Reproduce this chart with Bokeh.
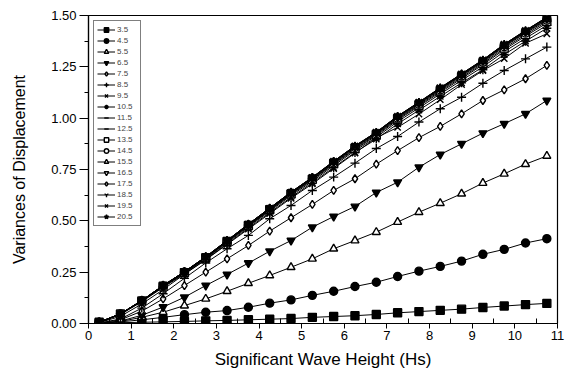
from bokeh.plotting import figure
from bokeh.models import FixedTicker, PrintfTickFormatter, Legend, LegendItem, Range1d
from bokeh.embed import file_html
from bokeh.resources import INLINE
import math

hs = [0.25, 0.75, 1.25, 1.75, 2.25, 2.75, 3.25, 3.75, 4.25, 4.75, 5.25,
      5.75, 6.25, 6.75, 7.25, 7.75, 8.25, 8.75, 9.25, 9.75, 10.25, 10.75]

labels = ["3.5", "4.5", "5.5", "6.5", "7.5", "8.5", "9.5", "10.5", "11.5",
          "12.5", "13.5", "14.5", "15.5", "16.5", "17.5", "18.5", "19.5", "20.5"]

s35 = [0.002, 0.004, 0.006, 0.008, 0.010, 0.013, 0.015, 0.018, 0.021, 0.024, 0.030,
       0.034, 0.038, 0.044, 0.052, 0.058, 0.064, 0.070, 0.078, 0.085, 0.092, 0.098]
s45 = [0.001, 0.008, 0.018, 0.030, 0.043, 0.055, 0.063, 0.079, 0.099, 0.115, 0.137,
       0.157, 0.180, 0.201, 0.229, 0.255, 0.278, 0.304, 0.337, 0.361, 0.392, 0.413]
s55 = [0.001, 0.010, 0.030, 0.055, 0.087, 0.120, 0.157, 0.196, 0.234, 0.274, 0.315,
       0.364, 0.404, 0.445, 0.494, 0.542, 0.586, 0.632, 0.684, 0.729, 0.776, 0.816]
s65 = [0.001, 0.012, 0.040, 0.080, 0.128, 0.185, 0.239, 0.294, 0.352, 0.404, 0.469,
       0.521, 0.570, 0.638, 0.688, 0.761, 0.823, 0.875, 0.927, 0.973, 1.021, 1.086]
s75 = [0.002, 0.018, 0.060, 0.120, 0.185, 0.250, 0.315, 0.380, 0.450, 0.515, 0.580,
       0.648, 0.705, 0.776, 0.842, 0.905, 0.960, 1.021, 1.086, 1.138, 1.192, 1.257]
s85 = [0.002, 0.022, 0.075, 0.145, 0.220, 0.295, 0.364, 0.429, 0.510, 0.575, 0.648,
       0.713, 0.781, 0.852, 0.911, 0.981, 1.046, 1.102, 1.170, 1.232, 1.289, 1.346]
s95 = [0.004, 0.035, 0.095, 0.165, 0.240, 0.310, 0.385, 0.460, 0.535, 0.610, 0.680,
       0.755, 0.830, 0.905, 0.955, 1.020, 1.090, 1.164, 1.232, 1.290, 1.365, 1.411]
s105 = [0.005, 0.044, 0.106, 0.176, 0.241, 0.312, 0.388, 0.465, 0.540, 0.615, 0.686,
        0.760, 0.833, 0.898, 0.972, 1.039, 1.106, 1.172, 1.236, 1.310, 1.375, 1.438]
s115 = [0.005, 0.045, 0.108, 0.179, 0.245, 0.316, 0.393, 0.471, 0.547, 0.623, 0.693,
        0.769, 0.842, 0.907, 0.983, 1.050, 1.118, 1.184, 1.250, 1.324, 1.389, 1.452]
s125 = [0.006, 0.046, 0.110, 0.181, 0.247, 0.319, 0.397, 0.475, 0.551, 0.628, 0.699,
        0.775, 0.848, 0.914, 0.991, 1.058, 1.126, 1.193, 1.260, 1.334, 1.400, 1.463]
s135 = [0.006, 0.046, 0.110, 0.182, 0.248, 0.320, 0.399, 0.477, 0.554, 0.631, 0.702,
        0.779, 0.852, 0.919, 0.996, 1.063, 1.132, 1.199, 1.266, 1.341, 1.407, 1.471]
s145 = [0.006, 0.047, 0.111, 0.183, 0.250, 0.322, 0.400, 0.479, 0.556, 0.634, 0.705,
        0.782, 0.857, 0.923, 1.000, 1.068, 1.137, 1.205, 1.272, 1.348, 1.414, 1.477]
s155 = [0.006, 0.047, 0.111, 0.184, 0.251, 0.323, 0.401, 0.481, 0.559, 0.636, 0.708,
        0.785, 0.860, 0.926, 1.004, 1.071, 1.141, 1.209, 1.276, 1.352, 1.418, 1.481]
s165 = [0.006, 0.047, 0.112, 0.184, 0.251, 0.324, 0.402, 0.482, 0.560, 0.637, 0.709,
        0.787, 0.862, 0.928, 1.006, 1.074, 1.143, 1.211, 1.279, 1.355, 1.421, 1.485]
s175 = [0.006, 0.047, 0.112, 0.185, 0.252, 0.324, 0.403, 0.483, 0.561, 0.639, 0.711,
        0.788, 0.863, 0.930, 1.008, 1.076, 1.146, 1.214, 1.281, 1.357, 1.424, 1.488]
s185 = [0.006, 0.047, 0.112, 0.185, 0.252, 0.325, 0.404, 0.484, 0.561, 0.639, 0.711,
        0.789, 0.864, 0.931, 1.009, 1.077, 1.147, 1.215, 1.283, 1.359, 1.426, 1.490]
s195 = [0.006, 0.047, 0.112, 0.185, 0.252, 0.325, 0.404, 0.484, 0.562, 0.640, 0.712,
        0.790, 0.865, 0.932, 1.010, 1.078, 1.148, 1.216, 1.284, 1.360, 1.427, 1.491]
s205 = [0.006, 0.047, 0.112, 0.185, 0.252, 0.325, 0.404, 0.484, 0.562, 0.640, 0.712,
        0.790, 0.865, 0.932, 1.010, 1.078, 1.148, 1.216, 1.284, 1.360, 1.427, 1.492]

series = [s35, s45, s55, s65, s75, s85, s95, s105, s115, s125, s135, s145,
          s155, s165, s175, s185, s195, s205]

x_ticks = [0, 1, 2, 3, 4, 5, 6, 7, 8, 9, 10, 11]
y_ticks = [0.0, 0.25, 0.5, 0.75, 1.0, 1.25, 1.5]

# (marker, filled, angle)
styles = [
    ("square", True, 0), ("circle", True, 0), ("triangle", False, 0),
    ("inverted_triangle", True, 0), ("diamond", False, 0), ("cross", False, 0),
    ("x", False, 0), ("asterisk", False, 0), ("dash", False, 0),
    ("dash", False, math.pi / 2), ("square", False, 0), ("circle", False, 0),
    ("triangle", False, 0), ("inverted_triangle", False, 0), ("diamond", False, 0),
    ("y", False, 0), ("x", False, 0), ("star", True, 0),
]

FONT = "Liberation Sans"

p = figure(width=578, height=379, output_backend="svg", toolbar_location=None,
           x_range=Range1d(0, 11), y_range=Range1d(0, 1.5),
           min_border_left=88, min_border_right=21, min_border_top=15,
           min_border_bottom=56)
p.grid.visible = False
p.outline_line_color = "black"
p.outline_line_width = 1.2

items = []
for lab, ys, (mk, filled, ang) in zip(labels, series, styles):
    lr = p.line(hs, ys, line_color="black", line_width=1)
    sz = 8 if mk not in ("cross", "x", "asterisk", "dash", "y") else 9
    sr = p.scatter(hs, ys, marker=mk, size=sz, angle=ang,
                   line_color="black", line_width=1.4,
                   fill_color="black" if filled else "white")
    items.append(LegendItem(label=lab, renderers=[lr, sr]))

legend = Legend(items=items, location="top_left", margin=5, padding=3,
                spacing=0, glyph_height=11, glyph_width=18, label_height=11,
                label_standoff=2, label_text_font_size="8px",
                label_text_font=FONT, border_line_color="black",
                border_line_width=1, background_fill_alpha=1)
p.add_layout(legend)

xa = p.xaxis[0]
xa.ticker = FixedTicker(ticks=x_ticks, minor_ticks=[v + 0.5 for v in x_ticks[:-1]])
xa.major_tick_out = 5
xa.major_tick_in = 0
xa.minor_tick_in = 5
xa.minor_tick_out = 0
xa.major_label_standoff = 2
xa.axis_label = "Significant Wave Height (Hs)"
xa.axis_label_standoff = 7

ya = p.yaxis[0]
ya.ticker = FixedTicker(ticks=y_ticks, minor_ticks=[v + 0.125 for v in y_ticks[:-1]])
ya.formatter = PrintfTickFormatter(format="%.2f")
ya.major_tick_out = 9
ya.major_tick_in = 0
ya.minor_tick_out = 4
ya.minor_tick_in = 0
ya.major_label_standoff = 3
ya.axis_label = "Variances of Displacement"
ya.axis_label_standoff = 20

for ax in (xa, ya):
    ax.axis_line_color = "black"
    ax.axis_line_width = 1.2
    ax.major_tick_line_color = "black"
    ax.minor_tick_line_color = "black"
    ax.major_label_text_font = FONT
    ax.major_label_text_font_size = "13px"
    ax.major_label_text_color = "black"
    ax.axis_label_text_font = FONT
    ax.axis_label_text_font_style = "normal"
    ax.axis_label_text_color = "black"
xa.axis_label_text_font_size = "17px"
ya.axis_label_text_font_size = "16px"

open("out.html", "w").write(file_html(p, INLINE))
